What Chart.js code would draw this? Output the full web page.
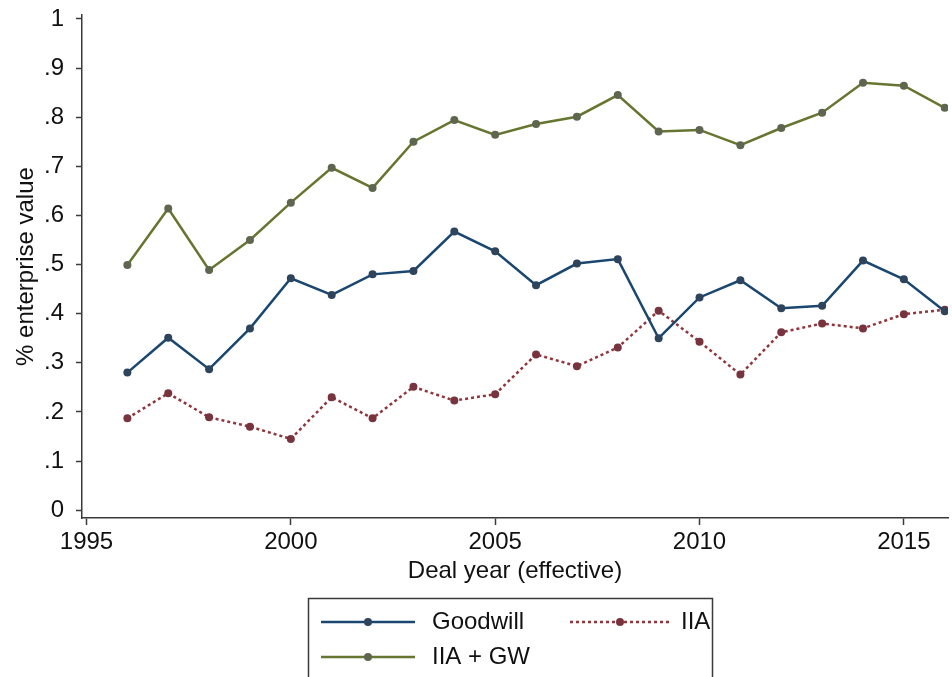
<!DOCTYPE html>
<html>
<head>
<meta charset="utf-8">
<script src="https://cdn.jsdelivr.net/npm/chart.js@4"></script>
<style>
    html, body { margin: 0; padding: 0; background: #fff; }
    #wrap { width: 952px; height: 677px; position: relative; }
</style>
</head>
<body>
<div id="wrap"><canvas id="gwChart"></canvas></div>
<script>
// Data
const years = [1996, 1997, 1998, 1999, 2000, 2001, 2002, 2003, 2004, 2005, 2006,
    2007, 2008, 2009, 2010, 2011, 2012, 2013, 2014, 2015, 2016];
const goodwill = [0.280, 0.351, 0.287, 0.370, 0.472, 0.438, 0.480, 0.487, 0.567, 0.527, 0.458,
    0.502, 0.511, 0.350, 0.433, 0.468, 0.411, 0.416, 0.508, 0.470, 0.405];
const iia = [0.187, 0.238, 0.189, 0.170, 0.145, 0.230, 0.187, 0.251, 0.223, 0.236, 0.317,
    0.293, 0.331, 0.406, 0.343, 0.276, 0.362, 0.380, 0.370, 0.399, 0.408];
const iiaGw = [0.499, 0.614, 0.489, 0.550, 0.626, 0.697, 0.656, 0.750, 0.794, 0.764, 0.786,
    0.801, 0.845, 0.771, 0.774, 0.743, 0.778, 0.809, 0.870, 0.864, 0.819];
const xTicks = [1995, 2000, 2005, 2010, 2015];
const yTicks = [0, 0.1, 0.2, 0.3, 0.4, 0.5, 0.6, 0.7, 0.8, 0.9, 1];

const FONT = "'Liberation Sans', Arial, Helvetica, sans-serif";
const AXIS = "#3a3a3a";

const toPoints = (arr) => years.map((yr, i) => ({ x: yr, y: arr[i] }));

// Stata-style boxed legend under the plot
const boxLegend = {
    id: "boxLegend",
    afterDraw(chart) {
        const ctx = chart.ctx;
        const ds = chart.data.datasets;
        ctx.save();
        ctx.strokeStyle = AXIS;
        ctx.lineWidth = 1.5;
        ctx.strokeRect(308.5, 598.5, 404, 90);

        const items = [
            { d: ds[0], x1: 321, x2: 415, y: 622, tx: 432 },
            { d: ds[1], x1: 570, x2: 670, y: 622, tx: 681 },
            { d: ds[2], x1: 321, x2: 415, y: 657, tx: 432 },
        ];
        items.forEach((it) => {
            ctx.strokeStyle = it.d.borderColor;
            ctx.lineWidth = it.d.borderWidth;
            ctx.setLineDash(it.d.borderDash || []);
            ctx.beginPath();
            ctx.moveTo(it.x1, it.y);
            ctx.lineTo(it.x2, it.y);
            ctx.stroke();
            ctx.setLineDash([]);
            ctx.fillStyle = it.d.pointBackgroundColor;
            ctx.beginPath();
            ctx.arc((it.x1 + it.x2) / 2, it.y, it.d.pointRadius, 0, Math.PI * 2);
            ctx.fill();
            ctx.fillStyle = "#111";
            ctx.font = "24px " + FONT;
            ctx.textBaseline = "middle";
            ctx.textAlign = "left";
            ctx.fillText(it.d.label, it.tx, it.y);
        });
        ctx.restore();
    },
};

const ctx = document.getElementById("gwChart");

new Chart(ctx, {
    type: "line",
    data: {
        datasets: [
            {
                label: "Goodwill",
                data: toPoints(goodwill),
                borderColor: "rgb(26, 71, 111)",
                pointBackgroundColor: "rgb(45, 68, 92)",
                pointBorderWidth: 0,
                pointRadius: 4,
                borderWidth: 2.5,
                tension: 0,
            },
            {
                label: "IIA",
                data: toPoints(iia),
                borderColor: "rgb(144, 53, 59)",
                pointBackgroundColor: "rgb(120, 52, 62)",
                pointBorderWidth: 0,
                pointRadius: 4,
                borderWidth: 2.5,
                borderDash: [3, 3],
                tension: 0,
            },
            {
                label: "IIA + GW",
                data: toPoints(iiaGw),
                borderColor: "rgb(102, 117, 47)",
                pointBackgroundColor: "rgb(95, 102, 80)",
                pointBorderWidth: 0,
                pointRadius: 4,
                borderWidth: 2.5,
                tension: 0,
            },
        ],
    },
    options: {
        responsive: true,
        maintainAspectRatio: false,
        animation: false,
        layout: { padding: { top: 15, right: 0, left: 0, bottom: 0 } },
        scales: {
            x: {
                type: "linear",
                min: 1994.89,
                max: 2016.08,
                afterBuildTicks: (scale) => {
                    scale.ticks = xTicks.map((v) => ({ value: v }));
                },
                afterFit: (scale) => {
                    scale.height = 159;
                    scale.paddingLeft = 0;
                    scale.paddingRight = 0;
                },
                ticks: {
                    color: "#111",
                    font: { family: FONT, size: 24 },
                    padding: 3,
                    maxRotation: 0,
                    callback: (v) => String(v),
                },
                grid: {
                    drawOnChartArea: false,
                    tickLength: 7,
                    tickWidth: 1.5,
                    color: AXIS,
                },
                border: { color: AXIS, width: 1.5 },
                title: {
                    display: true,
                    text: "Deal year (effective)",
                    color: "#111",
                    font: { family: FONT, size: 24 },
                    padding: { top: 0, bottom: 91 },
                },
            },
            y: {
                min: -0.016,
                max: 1.008,
                afterBuildTicks: (scale) => {
                    scale.ticks = yTicks.map((v) => ({ value: v }));
                },
                afterFit: (scale) => {
                    scale.width = 82;
                    scale.paddingTop = 0;
                    scale.paddingBottom = 0;
                },
                ticks: {
                    color: "#111",
                    font: { family: FONT, size: 24 },
                    padding: 12,
                    callback: (v) => {
                        if (v === 0) return "0";
                        if (v === 1) return "1";
                        return "." + Math.round(v * 10);
                    },
                },
                grid: {
                    drawOnChartArea: false,
                    tickLength: 6,
                    tickWidth: 1.5,
                    color: AXIS,
                },
                border: { color: AXIS, width: 1.5 },
                title: {
                    display: true,
                    text: "% enterprise value",
                    color: "#111",
                    font: { family: FONT, size: 24 },
                    padding: { top: 12, bottom: 0 },
                },
            },
        },
        plugins: {
            legend: { display: false },
            tooltip: { enabled: false },
        },
    },
    plugins: [boxLegend],
});
</script>
</body>
</html>
